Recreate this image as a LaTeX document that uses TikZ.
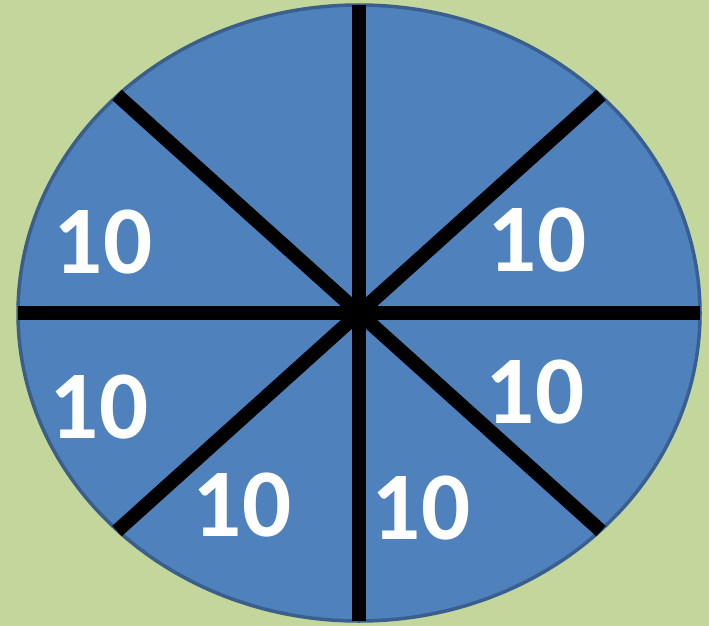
\documentclass[tikz,border=0pt]{standalone}
\usepackage{fontspec}
\setmainfont{Carlito}
\definecolor{bgG}{HTML}{C3D69B}
\definecolor{pieB}{HTML}{4F81BD}
\definecolor{pieE}{HTML}{3A5F8D}
\tikzset{
  spoke/.style={line width=14pt, black},
  val/.style={text=white, font=\fontsize{97}{97}\selectfont\bfseries, inner sep=0pt, anchor=center}
}
\begin{document}
\begin{tikzpicture}[x=1pt,y=-1pt]
\fill[bgG] (0,0) rectangle (709,626);
\useasboundingbox (0,0) rectangle (709,626);
\coordinate (c) at (359,313);
\draw[pieE, fill=pieB, line width=3.5pt] (c) ellipse [x radius=341, y radius=308];
\coordinate (t) at (359,5);
\coordinate (b) at (359,621);
\coordinate (l) at (18,313);
\coordinate (r) at (700,313);
\coordinate (tl) at (117,95);
\coordinate (tr) at (601,95);
\coordinate (bl) at (117,531);
\coordinate (br) at (601,531);
\draw[spoke] (t) -- (b);
\draw[spoke] (l) -- (r);
\draw[spoke] (tl) -- (br);
\draw[spoke] (tr) -- (bl);
\node[val] (v1) at (103,242) {10};
\node[val] (v2) at (537,240) {10};
\node[val] (v3) at (99,407) {10};
\node[val] (v4) at (535,392) {10};
\node[val] (v5) at (242,505) {10};
\node[val] (v6) at (421,508) {10};
\end{tikzpicture}
\end{document}
